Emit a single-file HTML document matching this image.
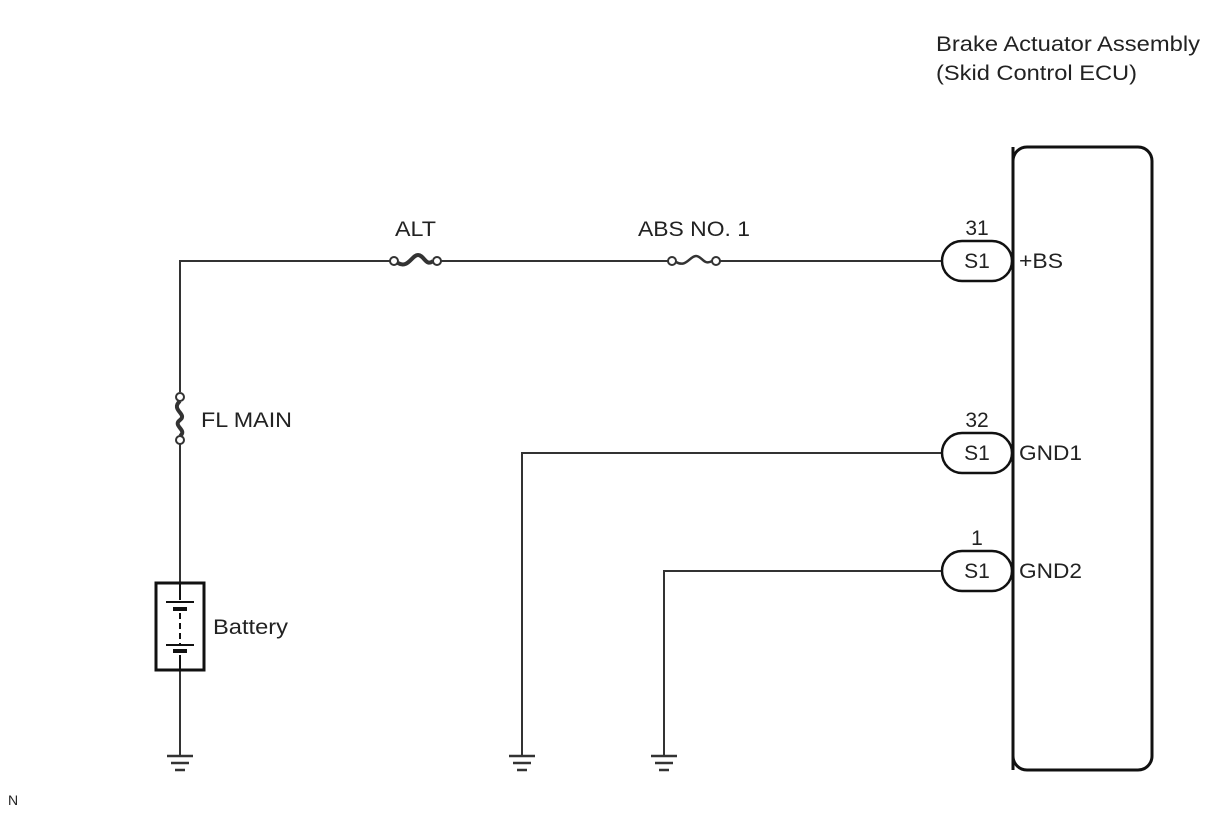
<!DOCTYPE html>
<html><head><meta charset="utf-8"><style>
body{margin:0;background:#fff}
svg text{font-family:"Liberation Sans",Arial,sans-serif;fill:#222}
</style></head><body>
<svg width="1210" height="814" viewBox="0 0 1210 814" xmlns="http://www.w3.org/2000/svg">
<g font-size="21">
<text x="936" y="51" textLength="264" lengthAdjust="spacingAndGlyphs">Brake Actuator Assembly</text>
<text x="936" y="80" textLength="201" lengthAdjust="spacingAndGlyphs">(Skid Control ECU)</text>
</g>
<rect x="1013" y="147" width="139" height="623" rx="14" fill="none" stroke="#111" stroke-width="3"/>
<g stroke="#333" stroke-width="2" fill="none">
<path d="M942 261H720M668 261H441M390 261H180V392"/>
<path d="M180 444V583M180 670V755"/>
<path d="M942 453H522V755"/>
<path d="M942 571H664V755"/>
</g>
<g stroke="#333" stroke-width="2" fill="#fff">
<circle cx="394" cy="261" r="4"/><circle cx="437" cy="261" r="4"/>
<path d="M398 263 C408 269 412 255 418 255 C424 255 426 267 433 261" fill="none" stroke-width="4"/>
<circle cx="672" cy="261" r="4"/><circle cx="716" cy="261" r="4"/>
<path d="M676 262 C686 268 690 256 696 256 C702 256 704 266 712 261" fill="none" stroke-width="2.5"/>
<circle cx="180" cy="397" r="4"/><circle cx="180" cy="440" r="4"/>
<path d="M180 401 C170 410 188 414 180 420 C172 426 188 430 180 436" fill="none" stroke-width="4"/>
</g>
<g font-size="21">
<text x="395" y="236" textLength="41" lengthAdjust="spacingAndGlyphs">ALT</text>
<text x="638" y="236" textLength="112" lengthAdjust="spacingAndGlyphs">ABS NO. 1</text>
<text x="201" y="427" textLength="91" lengthAdjust="spacingAndGlyphs">FL MAIN</text>
<text x="213" y="634" textLength="75" lengthAdjust="spacingAndGlyphs">Battery</text>
</g>
<rect x="156" y="583" width="48" height="87" fill="#fff" stroke="#111" stroke-width="3"/>
<g stroke="#111">
<path d="M180 583V600" stroke-width="2"/>
<path d="M166 602H194" stroke-width="2"/>
<path d="M173 609H187" stroke-width="4"/>
<path d="M180 613V645" stroke-width="2" stroke-dasharray="6 4"/>
<path d="M166 645H194" stroke-width="2"/>
<path d="M173 651H187" stroke-width="4"/>
<path d="M180 655V670" stroke-width="2"/>
</g>
<g stroke="#333" stroke-width="2.5">
<path d="M167 756H193M171 763H189M175 770H185"/>
<path d="M509 756H535M513 763H531M517 770H527"/>
<path d="M651 756H677M655 763H673M659 770H669"/>
</g>
<g fill="#fff" stroke="#111" stroke-width="2.5">
<rect x="942" y="241" width="70" height="40" rx="20"/>
<rect x="942" y="433" width="70" height="40" rx="20"/>
<rect x="942" y="551" width="70" height="40" rx="20"/>
</g>
<path d="M1013 147V770" stroke="#111" stroke-width="3"/>
<g font-size="21" text-anchor="middle">
<text x="977" y="268">S1</text><text x="977" y="460">S1</text><text x="977" y="578">S1</text>
<text x="977" y="235">31</text><text x="977" y="427">32</text><text x="977" y="545">1</text>
</g>
<g font-size="21">
<text x="1019" y="268" textLength="44" lengthAdjust="spacingAndGlyphs">+BS</text>
<text x="1019" y="460" textLength="63" lengthAdjust="spacingAndGlyphs">GND1</text>
<text x="1019" y="578" textLength="63" lengthAdjust="spacingAndGlyphs">GND2</text>
</g>
<text x="8" y="805" font-size="14">N</text>
</svg>
</body></html>
